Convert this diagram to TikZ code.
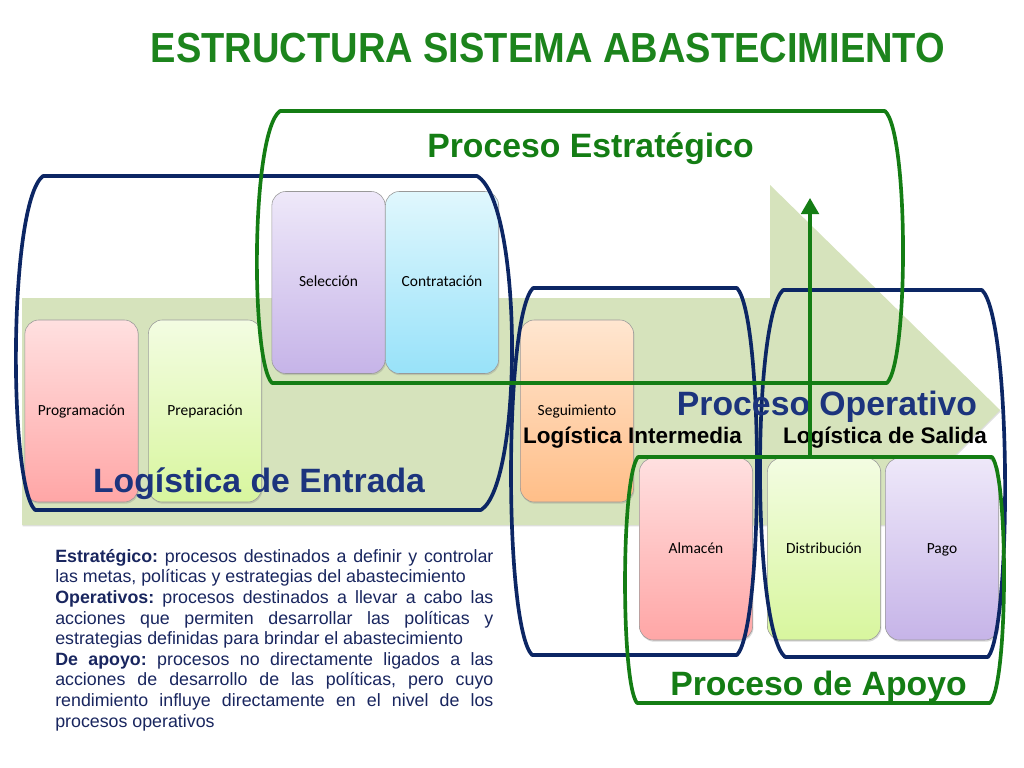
\documentclass[tikz,border=0pt]{standalone}
\usepackage{fontspec}
\setmainfont{Liberation Sans}
\newfontfamily\cajafont{Carlito}
\newfontfamily\titulofont[FakeStretch=0.905]{Liberation Sans}
\usetikzlibrary{positioning,shadows,arrows.meta}

\definecolor{azul}{RGB}{12,38,100}
\definecolor{azultxt}{RGB}{28,52,125}
\definecolor{verde}{RGB}{20,125,20}
\definecolor{verdetit}{RGB}{28,132,28}
\definecolor{fondo}{RGB}{214,227,188}
\definecolor{tinta}{RGB}{25,38,95}
\definecolor{rosaA}{RGB}{255,224,224}
\definecolor{rosaB}{RGB}{255,166,166}
\definecolor{limaA}{RGB}{243,252,226}
\definecolor{limaB}{RGB}{216,246,158}
\definecolor{lilaA}{RGB}{238,232,249}
\definecolor{lilaB}{RGB}{198,180,232}
\definecolor{celesteA}{RGB}{224,247,253}
\definecolor{celesteB}{RGB}{152,226,249}
\definecolor{durazA}{RGB}{255,230,208}
\definecolor{durazB}{RGB}{255,190,136}

\begin{document}
\frenchspacing
\begin{tikzpicture}[
x=0.025cm, y=-0.025cm,
caja/.style={
  draw=black!40,
  rounded corners=10pt,
  minimum width=2.83cm,
  minimum height=4.55cm,
  inner sep=0pt,
  text height=1.6ex,
  text depth=0.4ex,
  font=\cajafont\fontsize{11}{13}\selectfont,
  drop shadow={shadow xshift=0.6pt, shadow yshift=-1.2pt, opacity=0.3}
  },
marco/.style={
  line width=2.6pt,
  line join=round,
  line cap=round
  },
titulo/.style={
  inner sep=0pt,
  font=\titulofont\bfseries\fontsize{29.9}{34}\selectfont
  },
etiqueta/.style={
  inner sep=0pt,
  anchor=base,
  font=\bfseries\fontsize{24}{28}\selectfont
  },
subetiqueta/.style={
  inner sep=0pt,
  anchor=base,
  font=\bfseries\fontsize{16}{19}\selectfont
  },
notas/.style={
  inner sep=0pt,
  anchor=north west,
  text width=10.95cm,
  align=justify,
  text=tinta,
  font=\fontsize{12.66}{14.65}\selectfont
  },
flecha/.style={
  draw=verde,
  line width=2.2pt,
  -{Triangle[length=4mm,width=4.4mm]}
  }
]
\useasboundingbox[fill=white] (0,0) rectangle (1024,768);

% flecha de fondo
\fill[fondo, drop shadow={shadow xshift=0.5pt, shadow yshift=-1pt, opacity=0.25}]
  (22,298) -- (770,298) -- (770,185) -- (1000,410) -- (885,525) -- (22,525) -- cycle;

% titulo
\node[titulo, text=verdetit] (titulo) at (548,48) {ESTRUCTURA SISTEMA ABASTECIMIENTO};

% cajas
\foreach \nombre/\texto/\x/\y/\ca/\cb in {
  prog/Programación/81.5/411/rosaA/rosaB,
  prep/Preparación/205/411/limaA/limaB,
  selec/Selección/328.5/282.5/lilaA/lilaB,
  contra/Contratación/442/282.5/celesteA/celesteB,
  segui/Seguimiento/577/411/durazA/durazB,
  almacen/Almacén/696/549/rosaA/rosaB,
  distrib/Distribución/824/549/limaA/limaB,
  pago/Pago/942/549/lilaA/lilaB}
  \node[caja, top color=\ca, bottom color=\cb] (\nombre) at (\x,\y) {\texto};

% marcos
\foreach \xl/\xr/\yt/\yb/\bl/\br/\xlb/\xrb/\col in {
  43/477/176/510/16/512/35/481/azul,
  533/737/288/655/511/757/532/737/azul,
  783/982/290/657/760/1005/785/988/azul,
  280/885/111/383/257/903/272/887/verde,
  638/992/457/703/625/1004/637/990/verde}
  \draw[marco, draw=\col] (\xl,\yt) -- (\xr,\yt)
    .. controls ({(\br-(\xr+\xrb)/8)/0.75},{\yt+0.08*(\yb-\yt)}) and ({(\br-(\xr+\xrb)/8)/0.75},{\yb-0.08*(\yb-\yt)}) .. (\xrb,\yb)
    -- (\xlb,\yb)
    .. controls ({(\bl-(\xl+\xlb)/8)/0.75},{\yb-0.08*(\yb-\yt)}) and ({(\bl-(\xl+\xlb)/8)/0.75},{\yt+0.08*(\yb-\yt)}) .. (\xl,\yt) -- cycle;

% etiquetas
\node[etiqueta, text=verde] (estrategico) at (590.5,158) {Proceso Estratégico};
\node[etiqueta, text=azultxt] (entrada) at (259,492) {Logística de Entrada};
\node[etiqueta, text=azultxt] (operativo) at (827,415) {Proceso Operativo};
\node[subetiqueta] (intermedia) at (632.5,443) {Logística Intermedia};
\node[subetiqueta] (salida) at (885,443) {Logística de Salida};
\node[etiqueta, text=verde] (apoyo) at (818.5,695) {Proceso de Apoyo};

\node[notas] (notas) at (55,549) {%
\textbf{Estratégico:} procesos destinados a definir y controlar\linebreak
las metas, políticas y estrategias del abastecimiento\par
\textbf{Operativos:} procesos destinados a llevar a cabo las\linebreak
acciones que permiten desarrollar las políticas y\linebreak
estrategias definidas para brindar el abastecimiento\par
\textbf{De apoyo:} procesos no directamente ligados a las\linebreak
acciones de desarrollo de las políticas, pero cuyo\linebreak
rendimiento influye directamente en el nivel de los\linebreak
procesos operativos};

% flecha verde
\coordinate (punta) at (810,198);
\draw[flecha] (punta |- distrib.north) -- (punta);

\end{tikzpicture}
\end{document}
